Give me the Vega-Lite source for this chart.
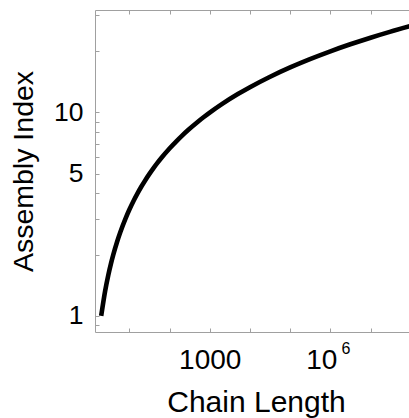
{
  "$schema": "https://vega.github.io/schema/vega-lite/v6.json",
  "width": 322,
  "height": 322,
  "autosize": {"type": "none"},
  "padding": {"left": 95, "top": 10, "right": 0, "bottom": 86},
  "config": {
    "view": {"stroke": "#a0a0a0", "strokeWidth": 1},
    "axis": {
      "domain": false,
      "grid": false,
      "labelFont": "Liberation Sans",
      "titleFont": "Liberation Sans",
      "labelFontSize": 26.5,
      "titleFontSize": 28.5,
      "titleFontWeight": "normal",
      "labelColor": "#000000",
      "titleColor": "#000000",
      "tickColor": "#a0a0a0",
      "tickWidth": 1
    }
  },
  "resolve": {"axis": {"x": "independent", "y": "independent"}},
  "data": {
    "values": [
      {"chain_length": 2, "assembly_index": 1},
      {"chain_length": 2.5, "assembly_index": 1.3219},
      {"chain_length": 3, "assembly_index": 1.585},
      {"chain_length": 3.5, "assembly_index": 1.8074},
      {"chain_length": 4, "assembly_index": 2},
      {"chain_length": 5, "assembly_index": 2.3219},
      {"chain_length": 6, "assembly_index": 2.585},
      {"chain_length": 8, "assembly_index": 3},
      {"chain_length": 10, "assembly_index": 3.3219},
      {"chain_length": 13, "assembly_index": 3.7004},
      {"chain_length": 16, "assembly_index": 4},
      {"chain_length": 20, "assembly_index": 4.3219},
      {"chain_length": 25, "assembly_index": 4.6439},
      {"chain_length": 32, "assembly_index": 5},
      {"chain_length": 40, "assembly_index": 5.3219},
      {"chain_length": 50, "assembly_index": 5.6439},
      {"chain_length": 64, "assembly_index": 6},
      {"chain_length": 100, "assembly_index": 6.6439},
      {"chain_length": 150, "assembly_index": 7.2288},
      {"chain_length": 200, "assembly_index": 7.6439},
      {"chain_length": 300, "assembly_index": 8.2288},
      {"chain_length": 500, "assembly_index": 8.9658},
      {"chain_length": 700, "assembly_index": 9.4512},
      {"chain_length": 1000, "assembly_index": 9.9658},
      {"chain_length": 2000, "assembly_index": 10.9658},
      {"chain_length": 5000, "assembly_index": 12.2877},
      {"chain_length": 10000, "assembly_index": 13.2877},
      {"chain_length": 30000, "assembly_index": 14.8727},
      {"chain_length": 100000, "assembly_index": 16.6096},
      {"chain_length": 300000, "assembly_index": 18.1946},
      {"chain_length": 1000000, "assembly_index": 19.9316},
      {"chain_length": 3000000, "assembly_index": 21.5165},
      {"chain_length": 10000000, "assembly_index": 23.2535},
      {"chain_length": 30000000, "assembly_index": 24.8385},
      {"chain_length": 100000000, "assembly_index": 26.5754}
    ]
  },
  "layer": [
    {
      "mark": {"type": "line", "color": "#000000", "strokeWidth": 4.6, "interpolate": "monotone", "clip": true},
      "encoding": {
        "x": {
          "field": "chain_length",
          "type": "quantitative",
          "scale": {"type": "log", "domain": [1.403, 142600000], "nice": false},
          "axis": {
            "orient": "bottom",
            "title": "Chain Length",
            "titleFontSize": 30,
            "values": [10, 100, 1000, 10000, 100000, 1000000, 10000000, 100000000],
            "labelExpr": "datum.value == 1000 ? '1000' : datum.value == 1000000 ? '10' : ''",
            "labelFontSize": 28,
            "labelOffset": {"condition": {"test": "datum.value == 1000000", "value": -9}, "value": 0},
            "tickSize": -4,
            "labelPadding": 18,
            "labelFlush": false,
            "labelOverlap": false,
            "titlePadding": 13
          }
        },
        "y": {
          "field": "assembly_index",
          "type": "quantitative",
          "scale": {"type": "log", "domain": [0.834, 31.8], "nice": false},
          "axis": {
            "orient": "left",
            "title": "Assembly Index",
            "values": [0.9, 1, 2, 3, 4, 5, 6, 7, 8, 9, 10, 20, 30],
            "labelExpr": "datum.value == 1 ? '1' : datum.value == 5 ? '5' : datum.value == 10 ? '10' : ''",
            "tickSize": -4,
            "labelPadding": 16,
            "labelFlush": false,
            "labelOverlap": false,
            "titlePadding": 15.5
          }
        }
      }
    },
    {
      "mark": {"type": "line", "strokeOpacity": 0},
      "encoding": {
        "x": {
          "field": "chain_length",
          "type": "quantitative",
          "axis": {
            "orient": "top",
            "title": null,
            "labels": false,
            "values": [10, 100, 1000, 10000, 100000, 1000000, 10000000, 100000000],
            "tickSize": -4
          }
        },
        "y": {
          "field": "assembly_index",
          "type": "quantitative",
          "axis": {
            "orient": "right",
            "title": null,
            "labels": false,
            "values": [0.9, 1, 2, 3, 4, 5, 6, 7, 8, 9, 10, 20, 30],
            "tickSize": -4
          }
        }
      }
    },
    {
      "mark": {"type": "line", "strokeOpacity": 0},
      "encoding": {
        "x": {
          "field": "chain_length",
          "type": "quantitative",
          "axis": {
            "orient": "bottom",
            "title": null,
            "ticks": false,
            "values": [1000000],
            "labelExpr": "'6'",
            "labelFontSize": 16,
            "labelOffset": 15,
            "labelPadding": 8,
            "labelFlush": false,
            "labelOverlap": false
          }
        },
        "y": {
          "field": "assembly_index",
          "type": "quantitative",
          "axis": null
        }
      }
    }
  ]
}
